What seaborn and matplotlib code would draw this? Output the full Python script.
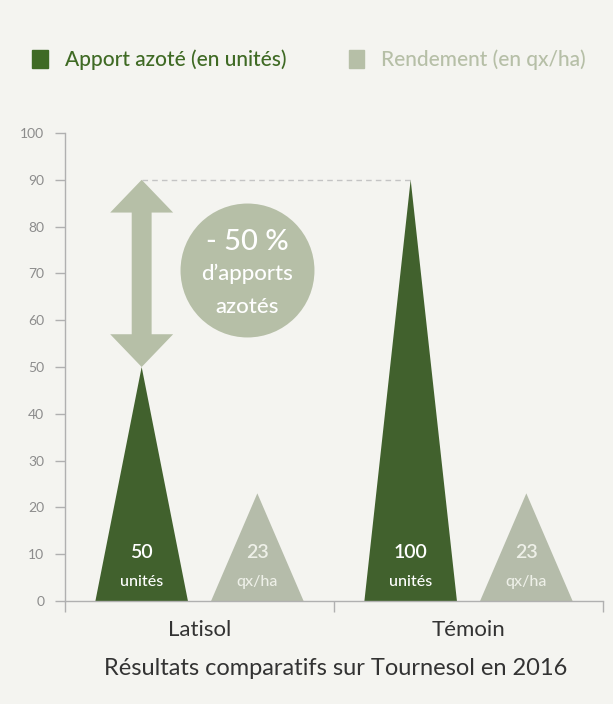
"""Latisol vs Témoin : apport azoté et rendement (tournesol 2016)."""
import matplotlib.pyplot as plt
import pandas as pd
import seaborn as sns
from matplotlib.patches import Patch

essais = ["Latisol", "Témoin"]
series = ["Apport azoté (en unités)", "Rendement (en qx/ha)"]
apport = [50, 90]            # hauteur des triangles
apport_txt = ["50", "100"]
rendement = [23, 23]
rendement_txt = ["23", "23"]
unites = ["unités", "qx/ha"]
yticks = list(range(0, 101, 10))
titre = "Résultats comparatifs sur Tournesol en 2016"
bulle = ["- 50 %", "d’apports", "azotés"]

DARK = "#3f6a24"
LIGHT = "#b6bfa7"
BG = "#f4f4f0"
GREY = "#8c8c8c"


def main() -> None:
    df = pd.DataFrame({
        "essai": essais * 2,
        "valeur": apport + rendement,
        "serie": [series[0]] * 2 + [series[1]] * 2,
    })

    sns.set_theme(style="white")
    plt.rcParams["font.family"] = ["Lato", "DejaVu Sans"]

    fig = plt.figure(figsize=(6.13, 7.04), dpi=100, facecolor=BG)
    ax = fig.add_axes([65 / 613, 1 - 601 / 704, 538 / 613, 468 / 704])
    ax.set_facecolor(BG)

    sns.barplot(data=df, x="essai", y="valeur", hue="serie",
                palette=[DARK, LIGHT], width=0.86, gap=0.2,
                legend=False, ax=ax)

    # bars -> triangles
    bars = list(ax.patches)
    tri = {}
    for i, p in enumerate(bars):
        s, e = divmod(i, 2)
        x, w, h = p.get_x(), p.get_width(), p.get_height()
        ax.fill([x, x + w / 2, x + w], [0, h, 0], color=p.get_facecolor(),
                lw=0, zorder=2)
        p.set_visible(False)
        tri[(s, e)] = (x + w / 2, h)
        num = apport_txt[e] if s == 0 else rendement_txt[e]
        col = "white" if s == 0 else "#eef0e8"
        ax.text(x + w / 2, 10.3, num, ha="center", va="center",
                color=col, fontsize=14, fontweight="semibold", zorder=4)
        ax.text(x + w / 2, 4.0, unites[s], ha="center", va="center",
                color=col, fontsize=11.5, fontweight="medium", zorder=4)

    # double arrow between the two nitrogen levels
    xa, y_bot = tri[(0, 0)]
    xt, y_top = tri[(0, 1)]
    hh, hs, hl = 0.117, 0.037, 7.0
    ax.fill([xa, xa + hh, xa + hs, xa + hs, xa + hh, xa,
             xa - hh, xa - hs, xa - hs, xa - hh],
            [y_top, y_top - hl, y_top - hl, y_bot + hl, y_bot + hl, y_bot,
             y_bot + hl, y_bot + hl, y_top - hl, y_top - hl],
            color=LIGHT, lw=0, zorder=3)
    ax.plot([xa, xt], [y_top, y_top], ls=(0, (4, 3)), color="#c4c4c4",
            lw=1, zorder=1)

    # bubble
    bx, by = 0.178, 70.7
    ax.scatter([bx], [by], s=9300, color=LIGHT, lw=0, zorder=3)
    ax.text(bx, 76.7, bulle[0], ha="center", va="center", color="white",
            fontsize=21, fontweight="medium", zorder=4)
    ax.text(bx, 70.0, bulle[1], ha="center", va="center", color="white",
            fontsize=16, fontweight="medium", zorder=4)
    ax.text(bx, 62.9, bulle[2], ha="center", va="center", color="white",
            fontsize=16, fontweight="medium", zorder=4)

    ax.set_xlim(-0.5, 1.5)
    ax.set_ylim(0, 100)
    ax.set_yticks(yticks)
    ax.set_yticklabels([str(t) for t in yticks])
    ax.set_xticks([0, 1])
    ax.set_xticklabels(essais)
    ax.set_xticks([-0.5, 0.5, 1.5], minor=True)
    ax.tick_params(axis="x", which="major", length=0, pad=14,
                   labelsize=16, labelcolor="#333333")
    ax.tick_params(axis="x", which="minor", length=8, width=1,
                   color="#b0b0b0", bottom=True)
    ax.tick_params(axis="y", length=7, width=1, color="#b0b0b0", pad=8,
                   labelsize=10, labelcolor=GREY, left=True)
    ax.set_xlabel("")
    ax.set_ylabel("")
    for side in ("top", "right"):
        ax.spines[side].set_visible(False)
    for side in ("left", "bottom"):
        ax.spines[side].set_color("#b0b0b0")
        ax.spines[side].set_linewidth(1)

    handles = [Patch(color=DARK), Patch(color=LIGHT)]
    leg = fig.legend(handles, series, loc="center left",
                     bbox_to_anchor=(0.022, 0.915), ncol=2, frameon=False,
                     prop={"size": 15, "weight": "medium"},
                     handlelength=0.75, handleheight=0.9,
                     handletextpad=0.8, columnspacing=3.0)
    for t, c in zip(leg.get_texts(), [DARK, LIGHT]):
        t.set_color(c)

    fig.text(0.547, 0.051, titre, ha="center", va="center",
             fontsize=17, color="#333333")

    fig.savefig("out.png", dpi=100, facecolor=BG)
    plt.close(fig)


if __name__ == "__main__":
    main()
